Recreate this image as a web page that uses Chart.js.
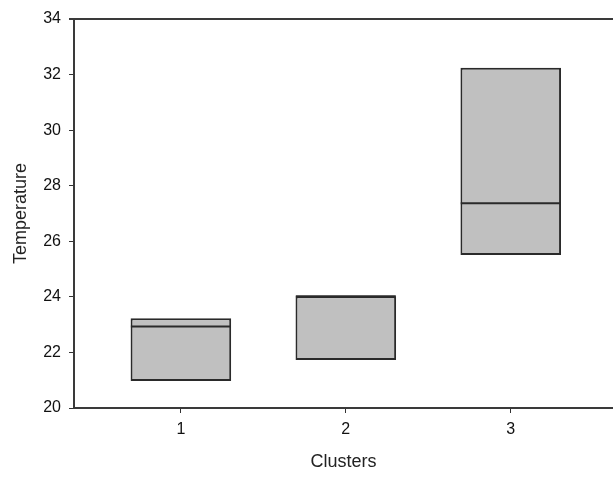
<!DOCTYPE html>
<html>
<head>
<meta charset="utf-8">
<script src="https://cdn.jsdelivr.net/npm/chart.js@4/dist/chart.umd.min.js"></script>
<style>
  html, body { margin: 0; padding: 0; background: #fff; overflow: hidden; }
  #wrap { width: 613px; height: 477px; }
</style>
</head>
<body>
<div id="wrap"><canvas id="chart"></canvas></div>
<script>
// Datos de los clusters
const clusters = [1, 2, 3];
const boxLow = [20.97, 21.73, 25.51];
const boxHigh = [23.23, 24.02, 32.25];
const medians = [22.93, 24.02, 27.37];
const yTicks = [20, 22, 24, 26, 28, 30, 32, 34];

const boxes = clusters.map((c, i) => ({ x: c, y: [boxLow[i], boxHigh[i]] }));
const medianPts = clusters.map((c, i) => ({ x: c, y: medians[i] }));

// linea superior del marco
const topBorder = {
  id: 'topBorder',
  afterDraw(chart) {
    const { ctx, chartArea } = chart;
    ctx.save();
    ctx.strokeStyle = '#3a3a3a';
    ctx.lineWidth = 2;
    ctx.beginPath();
    ctx.moveTo(chartArea.left - 5, chartArea.top);
    ctx.lineTo(chartArea.right, chartArea.top);
    ctx.stroke();
    ctx.restore();
  }
};

const font = { family: 'Liberation Sans, Arial, sans-serif', size: 16 };
const titleFont = { family: 'Liberation Sans, Arial, sans-serif', size: 18 };

new Chart(document.getElementById('chart'), {
  type: 'bar',
  data: {
    datasets: [{
      type: 'scatter',
      data: medianPts,
      pointStyle: 'line',
      pointRadius: 50,
      borderColor: '#2a2a2a',
      borderWidth: 2,
      clip: false,
      order: 0
    }, {
      type: 'bar',
      data: boxes,
      backgroundColor: '#c0c0c0',
      borderColor: '#2a2a2a',
      borderWidth: 2,
      borderSkipped: false,
      barPercentage: 0.61,
      categoryPercentage: 1,
      order: 1
    }]
  },
  options: {
    responsive: true,
    maintainAspectRatio: false,
    animation: false,
    layout: { autoPadding: false, padding: { top: 19, right: 0, left: 0, bottom: 0 } },
    plugins: { legend: { display: false }, tooltip: { enabled: false } },
    scales: {
      x: {
        type: 'linear',
        offset: false,
        min: 0.352,
        max: 3.62,
        afterBuildTicks: (axis) => { axis.ticks = clusters.map(v => ({ value: v })); },
        afterFit: (axis) => { axis.height = 69; },
        grid: { offset: false, drawOnChartArea: false, drawTicks: true, tickLength: 5, color: '#333' },
        border: { color: '#3a3a3a', width: 2 },
        ticks: { color: '#111', font: font, padding: 7 },
        title: { display: true, text: 'Clusters', color: '#222', font: titleFont, padding: { top: 7 } }
      },
      y: {
        min: 20,
        max: 34,
        afterBuildTicks: (axis) => { axis.ticks = yTicks.map(v => ({ value: v })); },
        afterFit: (axis) => { axis.width = 74; },
        grid: { drawOnChartArea: false, drawTicks: true, tickLength: 5, color: '#333' },
        border: { color: '#3a3a3a', width: 2 },
        ticks: { color: '#111', font: font, padding: 8 },
        title: { display: true, text: 'Temperature', color: '#222', font: titleFont, padding: { top: 10, bottom: 0 } }
      }
    }
  },
  plugins: [topBorder]
});
</script>
</body>
</html>
